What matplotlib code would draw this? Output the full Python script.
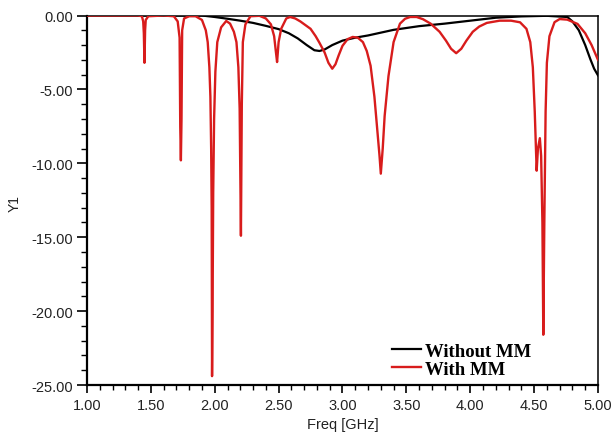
import numpy as np
import matplotlib
matplotlib.use("Agg")
import matplotlib.pyplot as plt
from matplotlib.ticker import MultipleLocator, FormatStrFormatter

# readings from the reference picture: freq [GHz], Y1
freq_without = [1.00, 1.90, 2.00, 2.10, 2.20, 2.30, 2.40, 2.50, 2.58, 2.65, 2.72, 2.78, 2.82,
                2.86, 2.92, 3.00, 3.10, 3.20, 3.40, 3.60, 3.80, 4.00, 4.20, 4.40, 4.60, 4.76,
                4.80, 4.85, 4.90, 4.94, 4.97, 5.00]
y_without = [0.0, 0.0, -0.1, -0.22, -0.35, -0.5, -0.7, -0.92, -1.2, -1.55, -2.0, -2.35, -2.4,
             -2.3, -2.0, -1.7, -1.5, -1.35, -0.97, -0.72, -0.55, -0.35, -0.15, -0.06, -0.02,
             -0.1, -0.4, -1.0, -2.0, -2.95, -3.6, -4.05]

freq_with = [1.00, 1.40, 1.43, 1.44, 1.445, 1.45, 1.455, 1.46, 1.48, 1.60, 1.68, 1.71, 1.725,
             1.73, 1.735, 1.74, 1.745, 1.76, 1.80, 1.85, 1.90, 1.93, 1.945, 1.958, 1.966,
             1.972, 1.976, 1.979, 1.983, 1.988, 1.995, 2.005, 2.02, 2.05, 2.09, 2.12, 2.15,
             2.17, 2.185, 2.195, 2.205, 2.212, 2.22, 2.24, 2.28, 2.35, 2.40, 2.44, 2.465,
             2.478, 2.488, 2.50, 2.52, 2.56, 2.59, 2.63, 2.67, 2.71, 2.75, 2.79, 2.82, 2.86,
             2.89, 2.92, 2.945, 2.97, 3.00, 3.04, 3.08, 3.12, 3.16, 3.19, 3.22, 3.25, 3.27,
             3.29, 3.30, 3.315, 3.33, 3.36, 3.40, 3.45, 3.49, 3.53, 3.58, 3.63, 3.69, 3.76,
             3.81, 3.85, 3.89, 3.93, 3.97, 4.02, 4.07, 4.13, 4.23, 4.32, 4.39, 4.44, 4.47,
             4.49, 4.505, 4.52, 4.53, 4.545, 4.555, 4.565, 4.572, 4.58, 4.59, 4.60, 4.62,
             4.66, 4.70, 4.76, 4.84, 4.90, 4.95, 5.00]
y_with = [0.0, 0.0, -0.05, -0.4, -1.2, -3.2, -1.0, -0.3, -0.05, 0.0, -0.05, -0.4, -1.5,
          -7.5, -9.8, -7.0, -1.0, -0.2, -0.05, -0.05, -0.3, -1.0, -1.8, -3.5, -5.5,
          -9.0, -13.0, -24.4, -20.0, -12.0, -7.0, -3.8, -1.8, -0.8, -0.37, -0.55, -1.1,
          -1.8, -3.5, -6.3, -14.9, -6.0, -1.8, -0.6, -0.05, -0.02, -0.2, -0.6, -1.4,
          -2.4, -3.15, -1.8, -0.9, -0.2, -0.1, -0.2, -0.4, -0.65, -0.9, -1.4, -1.85,
          -2.5, -3.2, -3.6, -3.3, -2.7, -2.05, -1.6, -1.45, -1.5, -1.8, -2.4, -3.4,
          -5.5, -7.5, -9.5, -10.7, -9.0, -6.8, -4.1, -1.8, -0.55, -0.22, -0.1, -0.1,
          -0.25, -0.55, -1.1, -1.7, -2.25, -2.55, -2.25, -1.7, -1.1, -0.75, -0.5, -0.35,
          -0.35, -0.46, -0.9, -1.8, -3.5, -6.5, -10.5, -9.0, -8.3, -9.5, -14.0, -21.6,
          -14.0, -6.5, -3.2, -1.4, -0.45, -0.24, -0.28, -0.57, -1.2, -2.0, -3.0]

RED = "#d81c1c"

fig = plt.figure(figsize=(6.13, 4.39), dpi=100)
ax = fig.add_axes([0.1419, 0.1207, 0.8336, 0.8417])

ax.plot(freq_without, y_without, color="black", lw=1.6, label="Without MM", zorder=2)
ax.plot(freq_with, y_with, color=RED, lw=1.7, label="With MM", zorder=3)

ax.set_xlim(1.0, 5.0)
ax.set_ylim(-25.0, 0.0)
ax.xaxis.set_major_locator(MultipleLocator(0.5))
ax.xaxis.set_minor_locator(MultipleLocator(0.1))
ax.yaxis.set_major_locator(MultipleLocator(5))
ax.yaxis.set_minor_locator(MultipleLocator(1))
ax.xaxis.set_major_formatter(FormatStrFormatter("%.2f"))
ax.yaxis.set_major_formatter(FormatStrFormatter("%.2f"))

tick_font = "Liberation Sans"
ax.tick_params(axis="x", which="major", length=6, width=1.2, direction="out", pad=3,
               labelsize=10.5, labelcolor="#222222")
ax.tick_params(axis="x", which="minor", length=3.5, width=1.0, direction="out")
ax.tick_params(axis="y", which="major", length=7, width=1.2, direction="out", pad=3,
               labelsize=10.5, labelcolor="#222222")
ax.tick_params(axis="y", which="minor", length=4.5, width=1.0, direction="out")
for lab in ax.get_xticklabels() + ax.get_yticklabels():
    lab.set_fontfamily(tick_font)

for side in ["left", "bottom"]:
    ax.spines[side].set_linewidth(1.6)
for side in ["top", "right"]:
    ax.spines[side].set_linewidth(1.1)

ax.set_xlabel("Freq [GHz]", fontfamily=tick_font, fontsize=10.5, color="#222222", labelpad=4)
ax.set_ylabel("Y1", fontfamily=tick_font, fontsize=10, color="#222222")
ax.yaxis.set_label_coords(-0.128, 0.494)

leg = ax.legend(loc="lower left", bbox_to_anchor=(0.572, -0.016), frameon=False,
                prop={"family": "Liberation Serif", "weight": "bold", "size": 13.5},
                handlelength=1.55, handletextpad=0.2, labelspacing=0.05, borderpad=0.2)

fig.savefig("out.png", dpi=100)
